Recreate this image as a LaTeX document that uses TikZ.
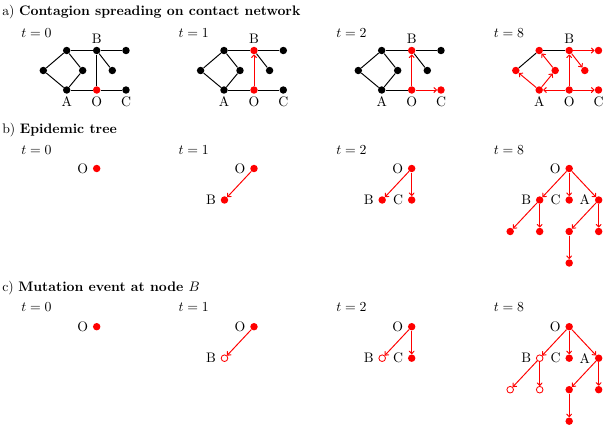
\documentclass[tikz,border=0pt]{standalone}
\usetikzlibrary{arrows.meta}
\begin{document}
\begin{tikzpicture}[x=0.725pt,y=-0.725pt,
  dot/.style={circle,inner sep=0pt,minimum size=5.4pt,fill=black},
  rdot/.style={dot,fill=red},
  hdot/.style={circle,inner sep=0pt,minimum size=4.8pt,draw=red,fill=white,line width=0.6pt},
  edge/.style={line width=0.7pt,black},
  redge/.style={line width=0.7pt,red,-{To[length=2.6pt,width=4.2pt]}},
  lab/.style={inner sep=0pt,anchor=base},
  llab/.style={inner sep=0pt,anchor=east},
  tlab/.style={inner sep=0pt,anchor=base west},
  ttl/.style={inner sep=0pt,anchor=base west}]
\useasboundingbox (0,0) rectangle (608,425);

% ---------- titles ----------
\node[ttl] (ta) at (2,15) {a) \textbf{Contagion spreading on contact network}};
\node[ttl] (tb) at (2,133) {b) \textbf{Epidemic tree}};
\node[ttl] (tc) at (2,291) {c) \textbf{Mutation event at node $B$}};

% ---------- a) networks ----------
% t=0
\begin{scope}[shift={(0,0)}]
\node[tlab] (ta0) at (21,37.7) {$t=0$};
\node[dot] (L0) at (43.3,70.5) {};
\node[dot] (T0) at (66.7,50.5) {};
\node[dot] (R0) at (82.7,70.5) {};
\node[dot] (A0) at (66.7,90) {};
\node[dot] (B0) at (96.7,50.5) {};
\node[dot] (E0) at (126,50.5) {};
\node[dot] (F0) at (112.3,70.5) {};
\node[rdot] (O0) at (96.7,90) {};
\node[dot] (C0) at (126,90) {};
\node[lab] (lB0) at (96.7,43.3) {B};
\node[lab] (lA0) at (66.7,106.7) {A};
\node[lab] (lO0) at (96.7,106.7) {O};
\node[lab] (lC0) at (126,106.7) {C};
\draw[edge] (L0) -- (T0);
\draw[edge] (L0) -- (A0);
\draw[edge] (T0) -- (R0);
\draw[edge] (R0) -- (A0);
\draw[edge] (T0) -- (B0);
\draw[edge] (B0) -- (E0);
\draw[edge] (B0) -- (F0);
\draw[edge] (B0) -- (O0);
\draw[edge] (A0) -- (O0);
\draw[edge] (O0) -- (C0);
\end{scope}
% t=1
\begin{scope}[shift={(157.3,0)}]
\node[tlab] (ta1) at (21,37.7) {$t=1$};
\node[dot] (L1) at (43.3,70.5) {};
\node[dot] (T1) at (66.7,50.5) {};
\node[dot] (R1) at (82.7,70.5) {};
\node[dot] (A1) at (66.7,90) {};
\node[rdot] (B1) at (96.7,50.5) {};
\node[dot] (E1) at (126,50.5) {};
\node[dot] (F1) at (112.3,70.5) {};
\node[rdot] (O1) at (96.7,90) {};
\node[dot] (C1) at (126,90) {};
\node[lab] (lB1) at (96.7,43.3) {B};
\node[lab] (lA1) at (66.7,106.7) {A};
\node[lab] (lO1) at (96.7,106.7) {O};
\node[lab] (lC1) at (126,106.7) {C};
\draw[edge] (L1) -- (T1);
\draw[edge] (L1) -- (A1);
\draw[edge] (T1) -- (R1);
\draw[edge] (R1) -- (A1);
\draw[edge] (T1) -- (B1);
\draw[edge] (B1) -- (E1);
\draw[edge] (B1) -- (F1);
\draw[edge] (A1) -- (O1);
\draw[edge] (O1) -- (C1);
\draw[redge] (O1) -- (B1);
\end{scope}
% t=2
\begin{scope}[shift={(315,0)}]
\node[tlab] (ta2) at (21,37.7) {$t=2$};
\node[dot] (L2) at (43.3,70.5) {};
\node[dot] (T2) at (66.7,50.5) {};
\node[dot] (R2) at (82.7,70.5) {};
\node[dot] (A2) at (66.7,90) {};
\node[rdot] (B2) at (96.7,50.5) {};
\node[dot] (E2) at (126,50.5) {};
\node[dot] (F2) at (112.3,70.5) {};
\node[rdot] (O2) at (96.7,90) {};
\node[rdot] (C2) at (126,90) {};
\node[lab] (lB2) at (96.7,43.3) {B};
\node[lab] (lA2) at (66.7,106.7) {A};
\node[lab] (lO2) at (96.7,106.7) {O};
\node[lab] (lC2) at (126,106.7) {C};
\draw[edge] (L2) -- (T2);
\draw[edge] (L2) -- (A2);
\draw[edge] (T2) -- (R2);
\draw[edge] (R2) -- (A2);
\draw[edge] (T2) -- (B2);
\draw[edge] (B2) -- (E2);
\draw[edge] (B2) -- (F2);
\draw[edge] (A2) -- (O2);
\draw[redge] (O2) -- (B2);
\draw[redge] (O2) -- (C2);
\end{scope}
% t=8
\begin{scope}[shift={(472.5,0)}]
\node[tlab] (ta8) at (21,37.7) {$t=8$};
\node[rdot] (L8) at (43.3,70.5) {};
\node[rdot] (T8) at (66.7,50.5) {};
\node[rdot] (R8) at (82.7,70.5) {};
\node[rdot] (A8) at (66.7,90) {};
\node[rdot] (B8) at (96.7,50.5) {};
\node[rdot] (E8) at (126,50.5) {};
\node[rdot] (F8) at (112.3,70.5) {};
\node[rdot] (O8) at (96.7,90) {};
\node[rdot] (C8) at (126,90) {};
\node[lab] (lB8) at (96.7,43.3) {B};
\node[lab] (lA8) at (66.7,106.7) {A};
\node[lab] (lO8) at (96.7,106.7) {O};
\node[lab] (lC8) at (126,106.7) {C};
\draw[edge] (L8) -- (T8);
\draw[edge] (T8) -- (B8);
\draw[redge] (O8) -- (B8);
\draw[redge] (O8) -- (C8);
\draw[redge] (O8) -- (A8);
\draw[redge] (A8) -- (L8);
\draw[redge] (A8) -- (R8);
\draw[redge] (R8) -- (T8);
\draw[redge] (B8) -- (E8);
\draw[redge] (B8) -- (F8);
\end{scope}

% ---------- b) epidemic trees ----------
\node[tlab] (tb0) at (21,154) {$t=0$};
\node[rdot] (bO0) at (96.7,168.5) {};
\node[llab] (blO0) at (88.3,168.5) {O};

\node[tlab] (tb1) at (178.3,154) {$t=1$};
\node[rdot] (bO1) at (254,168.5) {};
\node[rdot] (bB1) at (224.5,200) {};
\node[llab] (blO1) at (245.6,168.5) {O};
\node[llab] (blB1) at (216.1,200) {B};
\draw[redge] (bO1) -- (bB1);

\node[tlab] (tb2) at (336,154) {$t=2$};
\node[rdot] (bO2) at (411.7,168.5) {};
\node[rdot] (bB2) at (382.2,200) {};
\node[rdot] (bC2) at (411.7,200) {};
\node[llab] (blO2) at (403.3,168.5) {O};
\node[llab] (blB2) at (373.8,200) {B};
\node[llab] (blC2) at (403.3,200) {C};
\draw[redge] (bO2) -- (bB2);
\draw[redge] (bO2) -- (bC2);

\node[tlab] (tb8) at (493.5,154) {$t=8$};
\node[rdot] (bO8) at (569.2,168.5) {};
\node[rdot] (bB8) at (539.7,200) {};
\node[rdot] (bC8) at (569.2,200) {};
\node[rdot] (bA8) at (598.7,200) {};
\node[rdot] (bB81) at (510.2,231.5) {};
\node[rdot] (bB82) at (539.7,231.5) {};
\node[rdot] (bA81) at (569.2,231.5) {};
\node[rdot] (bA82) at (598.7,231.5) {};
\node[rdot] (bG8) at (569.2,263) {};
\node[llab] (blO8) at (560.8,168.5) {O};
\node[llab] (blB8) at (531.3,200) {B};
\node[llab] (blC8) at (560.8,200) {C};
\node[llab] (blA8) at (590.3,200) {A};
\draw[redge] (bO8) -- (bB8);
\draw[redge] (bO8) -- (bC8);
\draw[redge] (bO8) -- (bA8);
\draw[redge] (bB8) -- (bB81);
\draw[redge] (bB8) -- (bB82);
\draw[redge] (bA8) -- (bA81);
\draw[redge] (bA8) -- (bA82);
\draw[redge] (bA81) -- (bG8);

% ---------- c) mutation trees ----------
\node[tlab] (tc0) at (21,311.7) {$t=0$};
\node[rdot] (cO0) at (96.7,326.7) {};
\node[llab] (clO0) at (88.3,326.7) {O};

\node[tlab] (tc1) at (178.3,311.7) {$t=1$};
\node[rdot] (cO1) at (254,326.7) {};
\node[hdot] (cB1) at (224.5,358.2) {};
\node[llab] (clO1) at (245.6,326.7) {O};
\node[llab] (clB1) at (216.1,358.2) {B};
\draw[redge] (cO1) -- (cB1);

\node[tlab] (tc2) at (336,311.7) {$t=2$};
\node[rdot] (cO2) at (411.7,326.7) {};
\node[hdot] (cB2) at (382.2,358.2) {};
\node[rdot] (cC2) at (411.7,358.2) {};
\node[llab] (clO2) at (403.3,326.7) {O};
\node[llab] (clB2) at (373.8,358.2) {B};
\node[llab] (clC2) at (403.3,358.2) {C};
\draw[redge] (cO2) -- (cB2);
\draw[redge] (cO2) -- (cC2);

\node[tlab] (tc8) at (493.5,311.7) {$t=8$};
\node[rdot] (cO8) at (569.2,326.7) {};
\node[hdot] (cB8) at (539.7,358.2) {};
\node[rdot] (cC8) at (569.2,358.2) {};
\node[rdot] (cA8) at (598.7,358.2) {};
\node[hdot] (cB81) at (510.2,389.7) {};
\node[hdot] (cB82) at (539.7,389.7) {};
\node[rdot] (cA81) at (569.2,389.7) {};
\node[rdot] (cA82) at (598.7,389.7) {};
\node[rdot] (cG8) at (569.2,421.2) {};
\node[llab] (clO8) at (560.8,326.7) {O};
\node[llab] (clB8) at (531.3,358.2) {B};
\node[llab] (clC8) at (560.8,358.2) {C};
\node[llab] (clA8) at (590.3,358.2) {A};
\draw[redge] (cO8) -- (cB8);
\draw[redge] (cO8) -- (cC8);
\draw[redge] (cO8) -- (cA8);
\draw[redge] (cB8) -- (cB81);
\draw[redge] (cB8) -- (cB82);
\draw[redge] (cA8) -- (cA81);
\draw[redge] (cA8) -- (cA82);
\draw[redge] (cA81) -- (cG8);
\end{tikzpicture}
\end{document}
